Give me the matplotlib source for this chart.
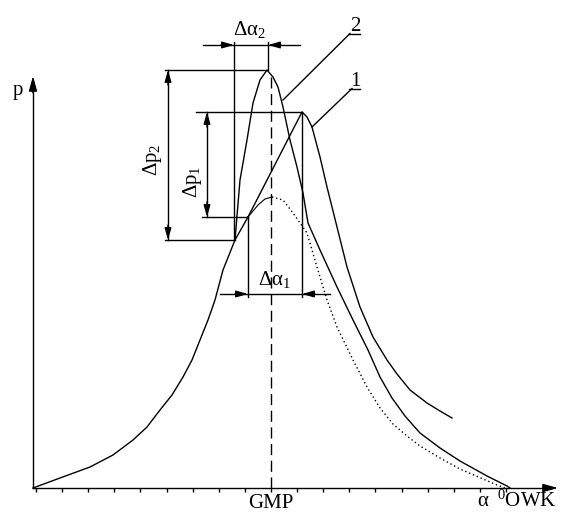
import matplotlib
matplotlib.use("Agg")
import matplotlib.pyplot as plt
import numpy as np

plt.rcParams['font.family'] = ['Liberation Serif', 'DejaVu Serif']
plt.rcParams['mathtext.fontset'] = 'custom'
plt.rcParams['mathtext.rm'] = 'Liberation Serif'
plt.rcParams['mathtext.it'] = 'Liberation Serif'
plt.rcParams['mathtext.bf'] = 'Liberation Serif:bold'

# crank angle (arbitrary units from axis origin) and pressure (arbitrary units)
common_angle = [0, 27, 57, 80, 100, 114, 127, 139, 150, 159, 167, 175, 182, 190, 202, 215]
common_p = [0, 10, 21, 33, 48, 61, 78, 93, 111, 128, 148, 168, 188, 218, 248, 271]

curve1_angle = [215, 269, 274, 279, 287, 294, 304, 314, 327, 340, 354, 364, 377, 394, 407, 419]
curve1_p = [271, 376, 371, 361, 331, 301, 261, 221, 181, 151, 128, 114, 98, 85, 77, 70]

curve2_angle = [202, 207, 214, 220, 227, 234, 240, 245, 250, 257, 264, 270, 275, 287,
                304, 320, 335, 347, 359, 372, 387, 407, 427, 454, 474, 477]
curve2_p = [248, 308, 348, 385, 408, 418, 411, 401, 381, 348, 321, 295, 265, 238,
            201, 168, 138, 111, 90, 72, 55, 40, 27, 12, 2, 0]

motor_rise_angle = [215, 225, 232, 239]
motor_rise_p = [271, 283, 289, 291]
motor_angle = [239, 250, 260, 274, 284, 294, 304, 320, 334, 347, 360, 374, 387, 407, 427, 450, 464, 472]
motor_p = [291, 288, 275, 255, 221, 188, 161, 128, 101, 80, 64, 52, 42, 30, 19, 9, 3, 0]

gmp = 238
tick_labels = [''] * 9 + ['GMP'] + [''] * 9

fig = plt.figure(figsize=(5.62, 5.12), dpi=100)
ax = fig.add_axes([0, 0, 1, 1])
ax.set_xlim(-33, 529)
ax.set_ylim(-24, 488)

lw = 1.0
k = 'black'

# axes
for s in ['top', 'right']:
    ax.spines[s].set_visible(False)
ax.spines['left'].set_position(('data', 0))
ax.spines['bottom'].set_position(('data', 0))
ax.spines['left'].set_bounds(0, 405)
ax.spines['bottom'].set_bounds(0, 518)
ax.spines['left'].set_linewidth(lw)
ax.spines['bottom'].set_linewidth(lw)
ax.set_yticks([])
ax.set_xticks(np.linspace(3, 473, 19))
ax.set_xticklabels(tick_labels, fontsize=15)
ax.tick_params(axis='x', direction='out', length=3, width=1, pad=1)

arrow_kw = dict(arrowstyle='-|>,head_length=0.9,head_width=0.25', color=k, lw=lw,
                mutation_scale=10, shrinkA=0, shrinkB=0)
ax.annotate('', xy=(0, 412), xytext=(0, 395), arrowprops=arrow_kw)
ax.annotate('', xy=(525, 0), xytext=(510, 0), arrowprops=arrow_kw)

# curves
ax.plot(common_angle, common_p, color=k, lw=lw)
ax.plot(curve1_angle, curve1_p, color=k, lw=lw)
ax.plot(curve2_angle, curve2_p, color=k, lw=lw)
ax.plot(motor_rise_angle, motor_rise_p, color=k, lw=0.8)
ax.plot(motor_angle, motor_p, color=k, lw=1.0, ls=(0, (1, 2)))

# GMP line
ax.plot([gmp, gmp], [0, 411], color=k, lw=lw, ls=(0, (8, 4)))

# dimension lines
dim = dict(color=k, lw=lw)
ah = dict(arrowstyle='-|>,head_length=0.7,head_width=0.2', color=k, lw=lw,
          mutation_scale=10, shrinkA=0, shrinkB=0)

# delta alpha 2
ax.plot([170, 267], [443, 443], **dim)
ax.plot([201, 201], [446, 248], **dim)
ax.plot([235, 235], [446, 418], **dim)
ax.annotate('', xy=(201, 443), xytext=(188, 443), arrowprops=ah)
ax.annotate('', xy=(235, 443), xytext=(248, 443), arrowprops=ah)
ax.text(200, 453, r'$\Delta\alpha_2$', ha='left', va='baseline', fontsize=15)

# delta p 2
ax.plot([132, 234], [418, 418], **dim)
ax.plot([132, 202], [248, 248], **dim)
ax.plot([135, 135], [418, 248], **dim)
ax.annotate('', xy=(135, 418), xytext=(135, 403), arrowprops=ah)
ax.annotate('', xy=(135, 248), xytext=(135, 263), arrowprops=ah)
ax.text(119, 328, r'$\Delta p_2$', rotation=90, ha='center', va='center', fontsize=15)

# delta p 1
ax.plot([163, 269], [376, 376], **dim)
ax.plot([169, 215], [271, 271], **dim)
ax.plot([174, 174], [376, 271], **dim)
ax.annotate('', xy=(174, 376), xytext=(174, 361), arrowprops=ah)
ax.annotate('', xy=(174, 271), xytext=(174, 286), arrowprops=ah)
ax.text(159, 306, r'$\Delta p_1$', rotation=90, ha='center', va='center', fontsize=15)

# delta alpha 1
ax.plot([215, 215], [271, 191], **dim)
ax.plot([269, 269], [376, 191], **dim)
ax.plot([187, 297], [194, 194], **dim)
ax.annotate('', xy=(215, 194), xytext=(202, 194), arrowprops=ah)
ax.annotate('', xy=(269, 194), xytext=(282, 194), arrowprops=ah)
ax.text(225, 203, r'$\Delta\alpha_1$', ha='left', va='baseline', fontsize=15)

# leaders
ax.plot([316, 327], [454.5, 454.5], **dim)
ax.plot([317, 250], [454.5, 388], **dim)
ax.text(322, 457, '2', ha='center', va='baseline', fontsize=15)
ax.plot([316, 327], [399.5, 399.5], **dim)
ax.plot([319, 279], [399.5, 361], **dim)
ax.text(322, 402, '1', ha='center', va='baseline', fontsize=15)

# axis labels
ax.text(-15, 397, 'p', ha='center', va='center', fontsize=15)
ax.text(444, -19, r'$\alpha\;\;{}^{0}\mathrm{OWK}$', ha='left', va='baseline', fontsize=15)

fig.savefig('out.png', dpi=100, facecolor='white')
